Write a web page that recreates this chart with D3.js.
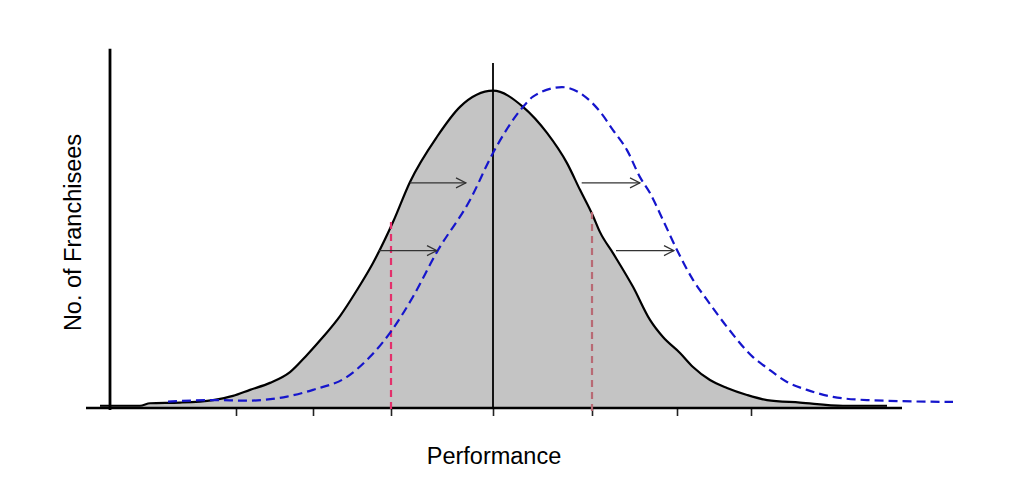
<!DOCTYPE html>
<html>
<head>
<meta charset="utf-8">
<script src="https://cdn.jsdelivr.net/npm/d3@7/dist/d3.min.js"></script>
<style>
  html, body { margin: 0; padding: 0; background: #fff; }
  svg { display: block; }
  text { font-family: "Liberation Sans", Arial, sans-serif; fill: #000; }
</style>
</head>
<body>
<svg id="chart" width="1024" height="495"></svg>
<script>
// Performance in standard-deviation units; count as % of current peak
const currentX = [-3.93, -3.53, -3.43, -3.13, -2.80, -2.60, -2.43, -2.23, -2.03, -1.86, -1.70, -1.53, -1.36, -1.20, -1.00, -0.83, -0.56, -0.33, 0.00, 0.30, 0.54, 0.74, 0.87, 1.00, 1.07, 1.20, 1.40, 1.57, 1.70, 1.87, 2.00, 2.17, 2.34, 2.54, 2.74, 3.07, 3.50, 3.94];
const currentY = [0.7, 0.7, 1.5, 1.7, 2.5, 3.8, 5.7, 7.9, 11.3, 16.7, 22.3, 28.9, 37.1, 45.6, 58.5, 71.1, 85.3, 94.7, 99.8, 94.7, 86.5, 77.0, 68.6, 60.4, 55.3, 48.7, 38.1, 27.7, 22.3, 17.3, 12.9, 8.8, 6.3, 4.1, 2.5, 1.7, 0.7, 0.7];

const shiftedX = [-3.25, -2.80, -2.46, -2.06, -1.80, -1.46, -1.23, -1.01, -0.80, -0.56, -0.23, 0.00, 0.30, 0.40, 0.69, 0.90, 1.07, 1.20, 1.34, 1.47, 1.57, 1.70, 1.84, 2.00, 2.14, 2.34, 2.60, 2.74, 2.94, 3.14, 3.40, 3.74, 4.60];
const shiftedY = [2.0, 2.5, 2.3, 3.6, 5.7, 9.8, 16.1, 24.5, 35.0, 49.1, 65.4, 80.2, 94.7, 97.9, 100.9, 98.4, 93.2, 87.4, 81.1, 72.6, 67.6, 59.1, 49.7, 40.3, 34.0, 25.5, 16.0, 12.6, 8.2, 5.7, 3.5, 2.5, 1.9];

const tickValues = [-2.57, -1.80, -1.02, 0, 0.99, 1.84, 2.58];
const xAxisExtent = [-4.07, 4.09];
const yAxisTop = 113;
const meanLineTop = 108.5;

const cutoffX = [-1.02, 0.99];
const cutoffTop = [58.5, 61.6];
const cutoffColors = ["#e3306b", "#b86a74"];

// arrows: [fromX, toX, level]
const arrowFrom = [-0.83, 0.887, -1.15, 1.23];
const arrowTo = [-0.27, 1.47, -0.56, 1.81];
const arrowLevel = [70.8, 70.8, 49.5, 49.5];

const svg = d3.select("#chart");
const x = d3.scaleLinear().domain([-4, 4]).range([93, 893]);
const y = d3.scaleLinear().domain([0, 100]).range([408, 90]);

const cur = currentX.map((v, i) => [v, currentY[i]]);
const sh = shiftedX.map((v, i) => [v, shiftedY[i]]);

// fill
svg.append("path")
  .datum(cur)
  .attr("fill", "#c4c4c4")
  .attr("d", d3.area().x(d => x(d[0])).y0(y(0)).y1(d => y(d[1])).curve(d3.curveMonotoneX));

// mean line
svg.append("line")
  .attr("x1", x(0)).attr("x2", x(0))
  .attr("y1", y(meanLineTop)).attr("y2", y(0))
  .attr("stroke", "#000").attr("stroke-width", 1.8);

// current curve
svg.append("path")
  .datum(cur)
  .attr("fill", "none").attr("stroke", "#000").attr("stroke-width", 2.2)
  .attr("stroke-linejoin", "round")
  .attr("d", d3.line().x(d => x(d[0])).y(d => y(d[1])).curve(d3.curveMonotoneX));

// x axis
const xAxis = d3.axisBottom(x).tickValues(tickValues).tickSize(8).tickFormat("");
const gx = svg.append("g").attr("transform", `translate(0,${y(0)})`).call(xAxis);
gx.select(".domain").remove();
gx.selectAll(".tick line").attr("stroke", "#222").attr("stroke-width", 1.6);
svg.append("line")
  .attr("x1", x(xAxisExtent[0])).attr("x2", x(xAxisExtent[1]))
  .attr("y1", y(0)).attr("y2", y(0))
  .attr("stroke", "#000").attr("stroke-width", 2.5);

// y axis
svg.append("line")
  .attr("x1", 110).attr("x2", 110)
  .attr("y1", y(yAxisTop)).attr("y2", y(0) + 2)
  .attr("stroke", "#000").attr("stroke-width", 2.8);

// cutoff lines
cutoffX.forEach((cx, i) => {
  svg.append("line")
    .attr("x1", x(cx)).attr("x2", x(cx))
    .attr("y1", y(cutoffTop[i])).attr("y2", y(0) + 4)
    .attr("stroke", cutoffColors[i]).attr("stroke-width", 2.2)
    .attr("stroke-dasharray", "7,5");
});

// shifted curve
svg.append("path")
  .datum(sh)
  .attr("fill", "none").attr("stroke", "#1515cc").attr("stroke-width", 2.2)
  .attr("stroke-dasharray", "9,5")
  .attr("d", d3.line().x(d => x(d[0])).y(d => y(d[1])).curve(d3.curveMonotoneX));

// arrow marker
svg.append("defs").append("marker")
  .attr("id", "arr").attr("viewBox", "0 -6 12 12")
  .attr("refX", 11).attr("refY", 0)
  .attr("markerWidth", 12).attr("markerHeight", 12)
  .attr("markerUnits", "userSpaceOnUse")
  .attr("orient", "auto")
  .append("path").attr("d", "M1,-5 L11,0 L1,5")
  .attr("fill", "none").attr("stroke", "#333").attr("stroke-width", 1.2);

arrowFrom.forEach((fx, i) => {
  svg.append("line")
    .attr("x1", x(fx)).attr("x2", x(arrowTo[i]))
    .attr("y1", y(arrowLevel[i])).attr("y2", y(arrowLevel[i]))
    .attr("stroke", "#333").attr("stroke-width", 1.2)
    .attr("marker-end", "url(#arr)");
});

// titles
svg.append("text")
  .attr("x", 494).attr("y", 464)
  .attr("text-anchor", "middle").attr("font-size", 23.5)
  .text("Performance");
svg.append("text")
  .attr("transform", "translate(81,232.5) rotate(-90)")
  .attr("text-anchor", "middle").attr("font-size", 23.5)
  .text("No. of Franchisees");
</script>
</body>
</html>
